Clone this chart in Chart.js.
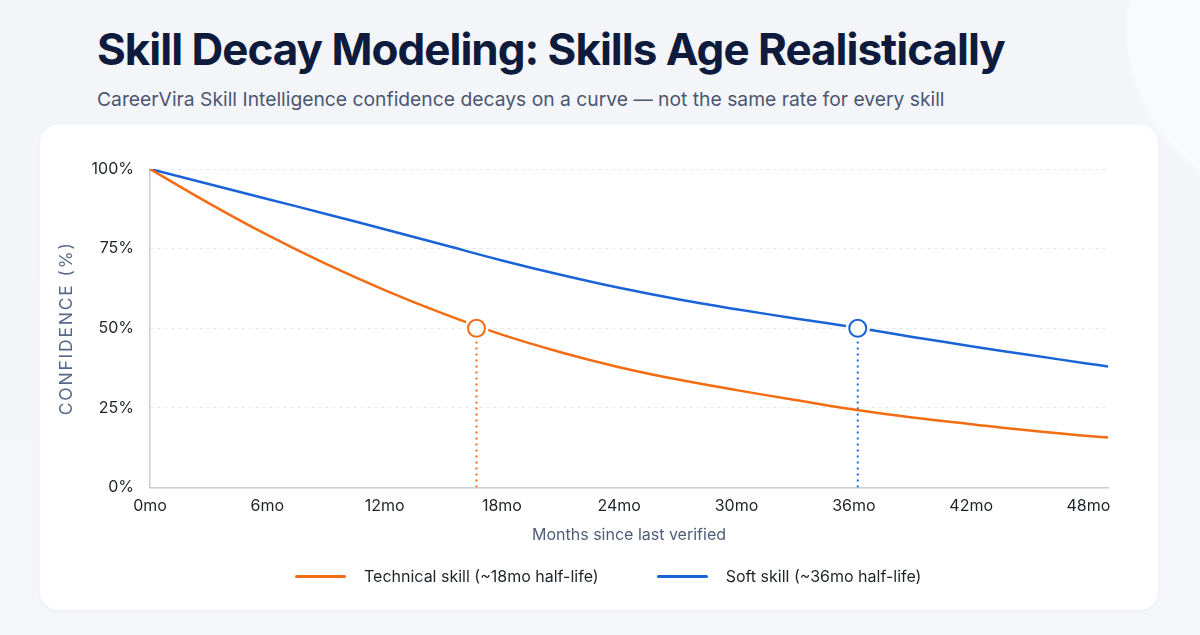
<!DOCTYPE html>
<html>
<head>
<meta charset="utf-8">
<script src="https://cdn.jsdelivr.net/npm/chart.js@4.4.1/dist/chart.umd.min.js"></script>
<style>
  html, body { margin: 0; padding: 0; }
  body {
    width: 1200px; height: 635px; overflow: hidden; position: relative;
    font-family: "Inter", "Noto Sans", sans-serif;
    background:
      radial-gradient(circle at 1300px 30px, #f9fafc 0, #f9fafc 170px, rgba(249,250,252,0) 175px),
      linear-gradient(180deg, #f3f5f9 0%, #f4f6fa 100%);
  }
  h1 {
    position: absolute; left: 97px; top: 22px; margin: 0;
    font-size: 44px; font-weight: 700; letter-spacing: -1px;
    color: #0e1b3d;
  }
  .sub {
    position: absolute; left: 97px; top: 87px; margin: 0;
    font-size: 19.3px; color: #4b5670;
  }
  .card {
    position: absolute; left: 40px; top: 125px; width: 1118px; height: 485px;
    background: #ffffff; border-radius: 18px;
    box-shadow: 0 1px 3px rgba(20, 30, 60, 0.05);
  }
  #grafico { position: absolute; left: 0; top: 0; }
  #legenda {
    position: absolute; left: 255px; top: 441px;
    display: flex; align-items: center; gap: 58px;
    font-size: 16px; color: #1f2329;
  }
  #legenda .item { display: flex; align-items: center; gap: 18px; }
  #legenda .linha { width: 51px; height: 3px; border-radius: 2px; }
</style>
</head>
<body>
<h1>Skill Decay Modeling: Skills Age Realistically</h1>
<p class="sub">CareerVira Skill Intelligence confidence decays on a curve — not the same rate for every skill</p>
<div class="card">
  <canvas id="grafico" width="1118" height="485"></canvas>
  <div id="legenda"></div>
</div>

<script>
// meses desde a última verificação
const meses = [0, 3, 6, 9, 12, 15, 18, 21, 24, 27, 30, 33, 36, 39, 42, 45, 48, 49];

// confiança (%)
const tecnica = [100, 89.3, 79.3, 70.2, 62, 54.6, 48, 42.5, 37.8, 33.9, 30.6, 27.5, 24.5, 22, 19.9, 17.9, 16.2, 15.7];
const soft    = [100, 95.3, 90.6, 85.9, 81.1, 76.2, 71.3, 66.8, 62.7, 59.1, 56, 53.1, 50.3, 47.3, 44.4, 41.6, 38.9, 38];

// pontos de meia-vida
const meiaVidaMeses = [16.7, 36.2];
const meiaVidaNivel = [50, 50];

// ticks dos eixos
const ticksX = [0, 6, 12, 18, 24, 30, 36, 42, 48];
const ticksY = [0, 25, 50, 75, 100];

const laranja = "#f36c12";
const azul = "#1a63d6";

// espaçamento entre letras só no título do eixo Y
const tituloEspacado = {
    id: "tituloEspacado",
    beforeDraw(chart) {
        const escala = chart.scales.y;
        if (escala._espacado) return;
        const original = escala.drawTitle;
        escala.drawTitle = function () {
            const c = this.ctx;
            c.save();
            c.letterSpacing = "1.8px";
            original.apply(this, arguments);
            c.restore();
        };
        escala._espacado = true;
    }
};

const grafico = montarGrafico();
montarLegenda(grafico);

function pontos(xs, ys) {
    return xs.map((x, i) => ({ x: x, y: ys[i] }));
}

function montarGrafico()
{
    const ctx = document.getElementById("grafico").getContext("2d");

    const linhaVertical = (i, cor) => ({
        label: "_v" + i,
        data: [{ x: meiaVidaMeses[i], y: 0 }, { x: meiaVidaMeses[i], y: meiaVidaNivel[i] }],
        borderColor: cor,
        borderWidth: 2,
        borderDash: [2, 4],
        pointRadius: 0,
        order: 4
    });

    const halo = (i) => ({
        label: "_h" + i,
        data: [{ x: meiaVidaMeses[i], y: meiaVidaNivel[i] }],
        showLine: false,
        pointRadius: 12,
        pointBorderWidth: 0,
        pointBackgroundColor: "#ffffff",
        pointBorderColor: "#ffffff",
        order: 1
    });

    const marcador = (i, cor) => ({
        label: "_m" + i,
        data: [{ x: meiaVidaMeses[i], y: meiaVidaNivel[i] }],
        showLine: false,
        pointRadius: 8.5,
        pointBorderWidth: 2,
        pointBackgroundColor: "#ffffff",
        pointBorderColor: cor,
        order: 0
    });

    return new Chart(ctx, {
        type: "line",
        data: {
            datasets: [
                {
                    label: "Technical skill (~18mo half-life)",
                    data: pontos(meses, tecnica),
                    borderColor: laranja,
                    backgroundColor: laranja,
                    borderWidth: 2.5,
                    pointRadius: 0,
                    tension: 0.4,
                    order: 2
                },
                {
                    label: "Soft skill (~36mo half-life)",
                    data: pontos(meses, soft),
                    borderColor: azul,
                    backgroundColor: azul,
                    borderWidth: 2.5,
                    pointRadius: 0,
                    tension: 0.4,
                    order: 2
                },
                linhaVertical(0, laranja),
                linhaVertical(1, azul),
                halo(0),
                halo(1),
                marcador(0, laranja),
                marcador(1, azul)
            ]
        },
        plugins: [tituloEspacado],
        options: {
            responsive: false,
            animation: false,
            layout: { padding: { top: 44, right: 50, bottom: 65, left: 0 } },
            plugins: {
                tooltip: { enabled: false },
                legend: { display: false }
            },
            scales: {
                x: {
                    type: "linear",
                    min: 0,
                    max: 49,
                    afterBuildTicks: s => { s.ticks = ticksX.map(v => ({ value: v })); },
                    ticks: {
                        callback: v => v + "mo",
                        color: "#1f2329",
                        padding: 9,
                        maxRotation: 0,
                        font: { family: "Inter", size: 16 }
                    },
                    grid: { display: false, drawTicks: false },
                    border: { display: true, color: "#c9ccd3", width: 1.5 },
                    title: {
                        display: true,
                        text: "Months since last verified",
                        color: "#4f5d7a",
                        font: { family: "Inter", size: 16 },
                        padding: { top: 1, bottom: 0 }
                    }
                },
                y: {
                    min: 0,
                    max: 100,
                    afterBuildTicks: s => { s.ticks = ticksY.map(v => ({ value: v })); },
                    afterFit: s => { s.width = 110; },
                    ticks: {
                        callback: v => v + "%",
                        color: "#1f2329",
                        padding: 16,
                        font: { family: "Inter", size: 16 }
                    },
                    grid: {
                        color: "#e2e5ea",
                        lineWidth: 1,
                        drawTicks: false
                    },
                    border: { display: true, color: "#c9ccd3", width: 1.5, dash: [3, 4] },
                    title: {
                        display: true,
                        text: "CONFIDENCE (%)",
                        color: "#56688a",
                        font: { family: "Inter", size: 17.5 },
                        padding: { top: 16, bottom: 0 }
                    }
                }
            }
        }
    });
}

// legenda em html, a partir dos datasets do gráfico
function montarLegenda(chart)
{
    const div = document.getElementById("legenda");
    for (let d of chart.data.datasets)
    {
        if (d.label.startsWith("_")) continue;
        div.innerHTML += '<span class="item">' +
                            '<span class="linha" style="background:' + d.borderColor + '"></span>' +
                            '<span>' + d.label + '</span>' +
                         '</span>';
    }
}
</script>
</body>
</html>
